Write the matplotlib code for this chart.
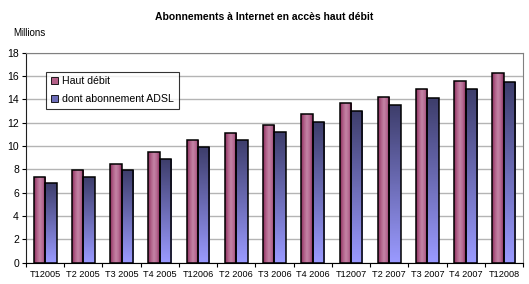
import numpy as np
import matplotlib
matplotlib.use('Agg')
import matplotlib.pyplot as plt
from matplotlib.colors import LinearSegmentedColormap
from matplotlib.patches import Patch

plt.rcParams['font.family'] = ['Liberation Sans', 'DejaVu Sans']

trimestres = ['T12005', 'T2 2005', 'T3 2005', 'T4 2005', 'T12006', 'T2 2006',
              'T3 2006', 'T4 2006', 'T12007', 'T2 2007', 'T3 2007', 'T4 2007',
              'T12008']
haut_debit = [7.33, 7.91, 8.42, 9.45, 10.48, 11.08, 11.76, 12.70, 13.65,
              14.16, 14.85, 15.54, 16.22]
adsl = [6.79, 7.33, 7.91, 8.88, 9.91, 10.48, 11.16, 12.02, 12.96, 13.48,
        14.08, 14.85, 15.45]

# degrades facon Excel
cmap_rouge = LinearSegmentedColormap.from_list(
    'rouge', ['#8c2c5c', '#b06088', '#c484a6', '#b46890', '#8a2a5a'])
cmap_bleu = LinearSegmentedColormap.from_list('bleu', ['#9a9aff', '#3e3e6c'])

fig = plt.figure(figsize=(5.29, 2.84), dpi=100)
ax = fig.add_axes([0.049, 0.0754, 0.9398, 0.7391])

x = np.arange(len(trimestres))
w = 0.3
grad_h = np.linspace(0, 1, 64).reshape(1, -1)
grad_v = np.linspace(0, 1, 64).reshape(-1, 1)

for i in x:
    ax.imshow(grad_h, cmap=cmap_rouge, aspect='auto', origin='lower',
              extent=(i - w, i, 0, haut_debit[i]), zorder=2,
              interpolation='bilinear')
    ax.imshow(grad_v, cmap=cmap_bleu, aspect='auto', origin='lower',
              extent=(i, i + w, 0, adsl[i]), zorder=2,
              interpolation='bilinear')

ax.bar(x - w / 2, haut_debit, w, fill=False, edgecolor='black', linewidth=1.1, zorder=3)
ax.bar(x + w / 2, adsl, w, fill=False, edgecolor='black', linewidth=1.1, zorder=3)

ax.set_xlim(-0.5, len(trimestres) - 0.5)
ax.set_ylim(0, 18)
ax.set_yticks(range(0, 19, 2))
ax.yaxis.grid(True, color='#b4b4b4', linewidth=1)
ax.set_axisbelow(True)
ax.tick_params(axis='y', labelsize=7.5, length=3, width=0.8, pad=2)

ax.set_xticks(x)
ax.set_xticklabels(trimestres, fontsize=6.6)
ax.set_xticks(np.arange(-0.5, len(trimestres), 1), minor=True)
ax.tick_params(axis='x', which='major', length=0, pad=5)
ax.tick_params(axis='x', which='minor', length=3, width=0.8)

for s in ['top', 'right']:
    ax.spines[s].set_color('#808080')
ax.spines['left'].set_color('#202020')
ax.spines['bottom'].set_color('black')

fig.text(0.5, 0.94, 'Abonnements à Internet en accès haut débit',
         ha='center', va='center', fontsize=7.5, fontweight='bold')
fig.text(0.025, 0.885, 'Millions', ha='left', va='center', fontsize=7)

handles = [Patch(facecolor='#b46088', edgecolor='black', linewidth=0.6),
           Patch(facecolor='#6c6cb8', edgecolor='black', linewidth=0.6)]
leg = ax.legend(handles, ['Haut débit', 'dont abonnement ADSL'],
                loc='upper left', bbox_to_anchor=(0.04, 0.91),
                fontsize=7.6, frameon=True, fancybox=False, borderpad=0.45,
                handlelength=0.7, handleheight=0.7, handletextpad=0.4,
                labelspacing=0.75, borderaxespad=0)
leg.get_frame().set_edgecolor('black')
leg.get_frame().set_linewidth(0.8)

fig.savefig('out.png', dpi=100)
